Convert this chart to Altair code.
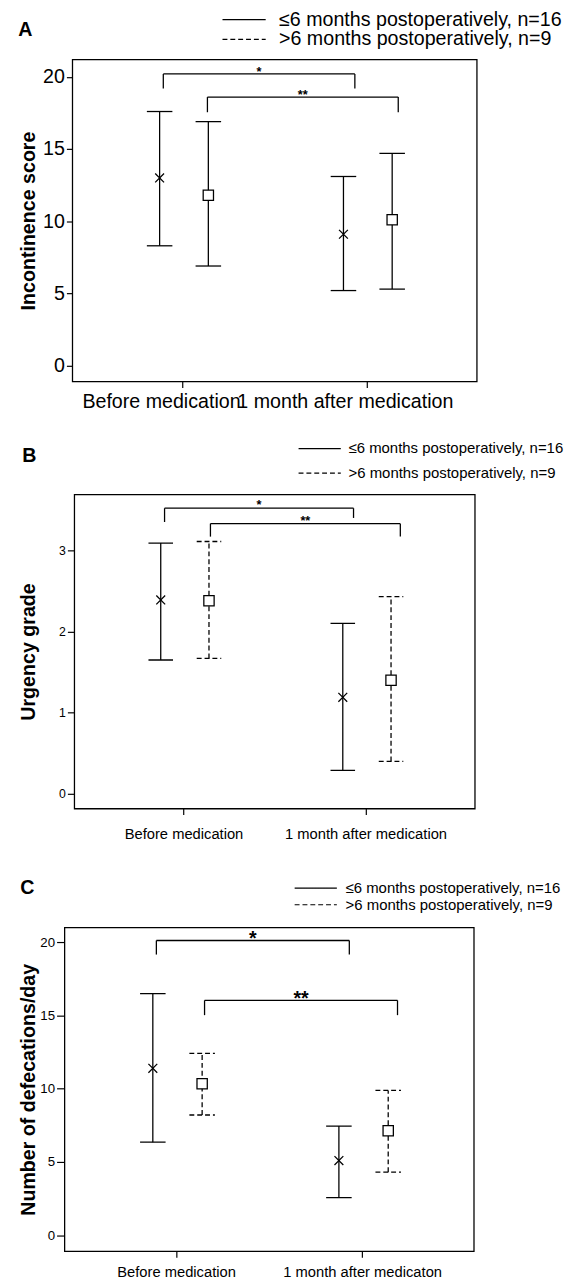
import json
import altair as alt
import pandas as pd

FONT = "Liberation Sans"

groups = ["≤6 months postoperatively, n=16", ">6 months postoperatively, n=9"]
markers = ["cross", "square"]
cats_ab = ["Before medication", "1 month after medication"]
cats_c = ["Before medication", "1 month after medicaton"]
y_titles = ["Incontinence score", "Urgency grade", "Number of defecations/day"]
letters = ["A", "B", "C"]

# Panel A: incontinence score (mean, lower, upper)
a_le6_mean = [13.0, 9.1]
a_le6_low = [8.3, 5.2]
a_le6_high = [17.6, 13.1]
a_gt6_mean = [11.8, 10.1]
a_gt6_low = [6.9, 5.3]
a_gt6_high = [16.9, 14.7]
a_ticks = [0, 5, 10, 15, 20]
a_sig_label = ["*", "**"]
a_sig_from = [-0.105, 0.135]
a_sig_to = [0.937, 1.173]
a_sig_y = [20.2, 18.6]
a_sig_leg1 = [19.2, 17.55]
a_sig_leg2 = [19.2, 17.55]

# Panel B: urgency grade
b_le6_mean = [2.39, 1.19]
b_le6_low = [1.65, 0.29]
b_le6_high = [3.09, 2.10]
b_gt6_mean = [2.38, 1.40]
b_gt6_low = [1.67, 0.40]
b_gt6_high = [3.11, 2.43]
b_ticks = [0, 1, 2, 3]
b_sig_label = ["*", "**"]
b_sig_from = [-0.104, 0.148]
b_sig_to = [0.934, 1.191]
b_sig_y = [3.52, 3.33]
b_sig_leg1 = [3.35, 3.17]
b_sig_leg2 = [3.40, 3.17]

# Panel C: number of defecations/day
c_le6_mean = [11.4, 5.1]
c_le6_low = [6.35, 2.57]
c_le6_high = [16.5, 7.45]
c_gt6_mean = [10.35, 7.13]
c_gt6_low = [8.21, 4.30]
c_gt6_high = [12.42, 9.89]
c_ticks = [0, 5, 10, 15, 20]
c_sig_label = ["*", "**"]
c_sig_from = [-0.106, 0.153]
c_sig_to = [0.931, 1.19]
c_sig_y = [20.13, 16.04]
c_sig_leg1 = [19.17, 15.03]
c_sig_leg2 = [19.17, 15.03]

XPATH = "M-1,-1L1,1M-1,1L1,-1"
LEG_PATH = "M-3,0L3,0"
OFFSETS = [-0.125, 0.14]
XDOM = [-0.6, 1.6]
LW = 1.3

INDEP = dict(strokeDash="independent", shape="independent", size="independent")


def panel(letter, cats, ytitle, le6, gt6, yticks, sig, st):
    W, H = st["w"], st["h"]
    cap = (st["cap"] / 2) * (XDOM[1] - XDOM[0]) / W
    pts, segs = [], []
    for g, mk, off, (m, lo, hi) in zip(groups, markers, OFFSETS, [le6, gt6]):
        for ci in range(len(cats)):
            x = ci + off
            pts.append({"marker": mk, "x": x, "y": m[ci]})
            segs.append({"group": g, "x": x, "x2": x, "y": lo[ci], "y2": hi[ci]})
            segs.append({"group": g, "x": x - cap, "x2": x + cap, "y": hi[ci], "y2": hi[ci]})
            segs.append({"group": g, "x": x - cap, "x2": x + cap, "y": lo[ci], "y2": lo[ci]})
    pdf = pd.DataFrame(pts)
    sdf = pd.DataFrame(segs)

    lab, xf, xt, yb, l1, l2 = sig
    bsegs, btxt = [], []
    for i in range(len(lab)):
        bsegs.append({"x": xf[i], "x2": xt[i], "y": yb[i], "y2": yb[i]})
        bsegs.append({"x": xf[i], "x2": xf[i], "y": l1[i], "y2": yb[i]})
        bsegs.append({"x": xt[i], "x2": xt[i], "y": l2[i], "y2": yb[i]})
        btxt.append({"x": (xf[i] + xt[i]) / 2, "y": yb[i], "t": lab[i]})
    bdf = pd.DataFrame(bsegs)
    tdf = pd.DataFrame(btxt)

    xscale = alt.Scale(domain=XDOM, nice=False, zero=False)
    xaxis = alt.Axis(values=[0, 1], labelExpr=json.dumps(cats) + "[datum.value]",
                     title=None, grid=False, domain=False, tickSize=st["xtick"],
                     labelFontSize=st["xfs"], labelPadding=st["xpad"],
                     labelOffset=st["xoff"], labelOverlap=False, labelFlush=False,
                     labelLimit=500,
                     labelFont=FONT, labelColor="black", tickColor="black", tickWidth=1.2)
    yscale = alt.Scale(domain=st["ydom"], nice=False, zero=False)
    yaxis = alt.Axis(values=yticks, title=ytitle, grid=False, domain=False,
                     tickSize=st["ytick"], labelFontSize=st["yfs"], labelPadding=2,
                     minExtent=st["yext"], maxExtent=st["yext"], titlePadding=st["ytpad"],
                     titleFontSize=20, titleFontWeight="bold", titleFont=FONT,
                     titleColor="black", labelFont=FONT, labelColor="black",
                     tickColor="black", tickWidth=1.2, format="d")

    def X(f="x"):
        return alt.X(f"{f}:Q", scale=xscale, axis=xaxis)

    def Y(f="y"):
        return alt.Y(f"{f}:Q", scale=yscale, axis=yaxis)

    dash_scale = alt.Scale(domain=groups, range=[[1, 0], [5, 3]])
    L = st["leglen"]
    legend = alt.Legend(title=None, orient="none", legendX=st["legx"], legendY=st["legy"],
                        symbolType=LEG_PATH, symbolSize=(L / 3) ** 2,
                        symbolStrokeWidth=1.2, symbolStrokeColor="black",
                        symbolFillColor="transparent",
                        labelFontSize=st["legfs"], labelFont=FONT, labelColor="black",
                        labelOffset=st["legoff"], rowPadding=st["legrow"], padding=0,
                        labelLimit=600)

    layers = []
    if st["dashed"]:
        bars = alt.Chart(sdf).mark_rule(color="black", strokeWidth=LW).encode(
            x=X(), x2="x2:Q", y=Y(), y2="y2:Q",
            strokeDash=alt.StrokeDash("group:N", scale=dash_scale, legend=legend, sort=groups))
        layers.append(bars)
    else:
        bars = alt.Chart(sdf).mark_rule(color="black", strokeWidth=LW).encode(
            x=X(), x2="x2:Q", y=Y(), y2="y2:Q")
        key = pd.DataFrame({"group": groups, "x": [0.5, 0.5], "y": [le6[0][0], le6[0][0]]})
        keyl = alt.Chart(key).mark_rule(color="black", strokeWidth=LW).encode(
            x=X(), x2="x:Q", y=Y(), y2="y:Q",
            strokeDash=alt.StrokeDash("group:N", scale=dash_scale, legend=legend, sort=groups))
        layers += [bars, keyl]

    points = alt.Chart(pdf).mark_point(fill="white", stroke="black", strokeWidth=LW, opacity=1).encode(
        x=X(), y=Y(),
        shape=alt.Shape("marker:N", scale=alt.Scale(domain=markers, range=[XPATH, "square"]), legend=None),
        size=alt.Size("marker:N", scale=alt.Scale(domain=markers, range=[81, 110]), legend=None))
    brackets = alt.Chart(bdf).mark_rule(color="black", strokeWidth=LW).encode(
        x=X(), x2="x2:Q", y=Y(), y2="y2:Q")
    stars = alt.Chart(tdf).mark_text(font=FONT, fontSize=st["starfs"], fontWeight="bold",
                                     baseline="alphabetic", dy=st["stardy"], color="black").encode(
        x=X(), y=Y(), text="t:N")
    layers += [points, brackets, stars]

    ch = alt.layer(*layers).properties(
        width=W, height=H,
        title=alt.TitleParams(letter, anchor="start", fontSize=20, fontWeight="bold", font=FONT,
                              color="black", offset=st["toff"], dx=st["tdx"]))

    spacer = alt.Chart(pd.DataFrame({"v": [0]})).mark_point(opacity=0).encode(
        x=alt.X("v:Q", axis=None), y=alt.Y("v:Q", axis=None)
    ).properties(width=1, height=1, view=alt.ViewBackground(strokeOpacity=0))
    return alt.hconcat(spacer, ch, spacing=0).resolve_scale(**INDEP).resolve_legend(strokeDash="independent")


pA = panel(letters[0], cats_ab, y_titles[0],
           (a_le6_mean, a_le6_low, a_le6_high), (a_gt6_mean, a_gt6_low, a_gt6_high), a_ticks,
           (a_sig_label, a_sig_from, a_sig_to, a_sig_y, a_sig_leg1, a_sig_leg2),
           dict(w=412, h=328, ydom=[-1.1, 21.2], yfs=20, ytick=6, yext=30, ytpad=5,
                xfs=20, xpad=4, xoff=-22, xtick=6, cap=26, dashed=False,
                leglen=44, legx=165, legy=-50.6, legfs=20, legoff=25.6, legrow=-1,
                starfs=13, stardy=2, tdx=0, toff=-30.5))
pB = panel(letters[1], cats_ab, y_titles[1],
           (b_le6_mean, b_le6_low, b_le6_high), (b_gt6_mean, b_gt6_low, b_gt6_high), b_ticks,
           (b_sig_label, b_sig_from, b_sig_to, b_sig_y, b_sig_leg1, b_sig_leg2),
           dict(w=408, h=320, ydom=[-0.18, 3.69], yfs=12.5, ytick=7, yext=16, ytpad=21,
                xfs=15, xpad=12.5, xoff=0, xtick=6, cap=25, dashed=True,
                leglen=43, legx=242, legy=-54.7, legfs=15.2, legoff=21.4, legrow=8,
                starfs=13, stardy=1, tdx=4, toff=-26))
pC = panel(letters[2], cats_c, y_titles[2],
           (c_le6_mean, c_le6_low, c_le6_high), (c_gt6_mean, c_gt6_low, c_gt6_high), c_ticks,
           (c_sig_label, c_sig_from, c_sig_to, c_sig_y, c_sig_leg1, c_sig_leg2),
           dict(w=417, h=330, ydom=[-1.1, 21.03], yfs=13.5, ytick=8, yext=25, ytpad=2,
                xfs=15, xpad=7.5, xoff=0, xtick=6, cap=26, dashed=True,
                leglen=43, legx=248, legy=-48, legfs=15.2, legoff=22.4, legrow=-1,
                starfs=20, stardy=5, tdx=2, toff=-18.3))

bc = alt.concat(pB, pC, columns=1, spacing=35, align="none").resolve_scale(**INDEP).resolve_legend(strokeDash="independent")
chart = alt.concat(pA, bc, columns=1, spacing=28, align="none").resolve_scale(**INDEP).resolve_legend(
    strokeDash="independent").properties(
    padding={"left": 2.5, "top": -11.5, "right": 5, "bottom": 0}
).configure_view(stroke="black", strokeWidth=1.3).configure_axis(
    labelFont=FONT, titleFont=FONT)

chart.save("out.html", embed_options={"renderer": "svg", "actions": False})
